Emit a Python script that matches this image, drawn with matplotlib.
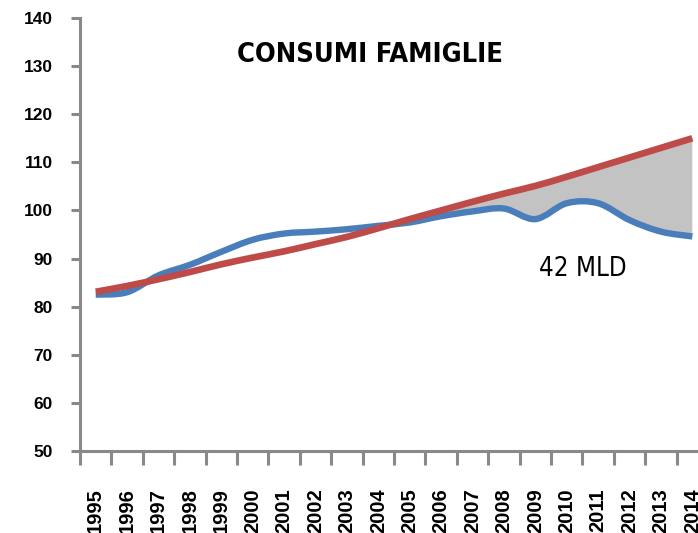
import numpy as np
import matplotlib
matplotlib.use("Agg")
import matplotlib.pyplot as plt
from matplotlib import font_manager
from matplotlib.path import Path
from matplotlib.patches import PathPatch

# data
years = [str(y) for y in range(1995, 2015)]
trend = [83.1, 84.3, 85.7, 87.2, 88.8, 90.2, 91.5, 93.0, 94.5, 96.3,
         98.2, 100.0, 101.8, 103.5, 105.1, 107.0, 109.0, 111.0, 113.0, 115.0]
consumi = [82.5, 83.0, 86.5, 88.7, 91.4, 93.9, 95.2, 95.6, 96.1, 96.8,
           97.5, 98.8, 99.8, 100.4, 98.2, 101.5, 101.5, 98.0, 95.6, 94.6]
gap_start = 2006
title = "CONSUMI FAMIGLIE"
gap_label = "42 MLD"

grey = "#898989"


def narrow_font(bold):
    # look for a condensed face, else fall back to plain Liberation Sans
    want = "bold" if bold else "normal"
    for f in font_manager.fontManager.ttflist:
        narrow = ("Narrow" in f.name or "Condensed" in f.name
                  or f.stretch in ("condensed", "semi-condensed"))
        is_bold = f.weight in (700, "bold")
        if narrow and is_bold == bold and f.style == "normal":
            return font_manager.FontProperties(fname=f.fname), True
    return font_manager.FontProperties(family="Liberation Sans", weight=want), False


def smooth_verts(x, y):
    # excel-like smoothed line: catmull-rom turned into cubic bezier segments
    pts = np.column_stack([x, y]).astype(float)
    n = len(pts)
    verts = [pts[0]]
    for i in range(n - 1):
        p0 = pts[max(i - 1, 0)]
        p1 = pts[i]
        p2 = pts[i + 1]
        p3 = pts[min(i + 2, n - 1)]
        verts.append(p1 + (p2 - p0) / 6.0)
        verts.append(p2 - (p3 - p1) / 6.0)
        verts.append(p2)
    return np.array(verts)


def bezier_codes(nverts):
    return [Path.MOVETO] + [Path.CURVE4] * (nverts - 1)


fig = plt.figure(figsize=(6.98, 5.33), dpi=100)
ax = fig.add_axes([80 / 698, 82 / 533, 628 / 698, 433 / 533])

x = np.arange(len(years))
red_v = smooth_verts(x, trend)
blue_v = smooth_verts(x, consumi)

# grey gap area between the trend and the real curve
i0 = years.index(str(gap_start))
red_part = red_v[3 * i0:]
blue_part = blue_v[3 * i0:][::-1]
fill_verts = np.concatenate([red_part, blue_part, red_part[:1]])
fill_codes = (bezier_codes(len(red_part)) + [Path.LINETO]
              + [Path.CURVE4] * (len(blue_part) - 1) + [Path.CLOSEPOLY])
ax.add_patch(PathPatch(Path(fill_verts, fill_codes), facecolor="#c3c3c3",
                       edgecolor="none", zorder=1))

ax.add_patch(PathPatch(Path(blue_v, bezier_codes(len(blue_v))), facecolor="none",
                       edgecolor="#4a7ebb", linewidth=4.6, capstyle="butt", zorder=2))
ax.add_patch(PathPatch(Path(red_v, bezier_codes(len(red_v))), facecolor="none",
                       edgecolor="#be4b48", linewidth=4.8, capstyle="butt", zorder=3))

ax.set_xlim(-0.5, len(years) - 0.5)
ax.set_ylim(50, 140)

# axes styling
for s in ["top", "right"]:
    ax.spines[s].set_visible(False)
for s in ["left", "bottom"]:
    ax.spines[s].set_color(grey)
    ax.spines[s].set_linewidth(2.2)

ax.set_yticks(np.arange(50, 141, 10))
ax.tick_params(axis="y", length=6.5, width=2.2, color=grey, pad=13)
for lab in ax.get_yticklabels():
    lab.set_fontfamily("Liberation Sans")
    lab.set_fontweight("bold")
    lab.set_fontsize(12.5)

ax.set_xticks(np.arange(-0.5, len(years), 1.0))
ax.set_xticklabels([])
ax.tick_params(axis="x", which="major", length=10, width=2.2, color=grey)
ax.set_xticks(x, minor=True)
ax.set_xticklabels(years, minor=True, rotation=90, fontsize=14.5,
                   fontweight="bold", va="top", family="Liberation Sans")
ax.tick_params(axis="x", which="minor", length=0, pad=27)

title_fp, is_narrow = narrow_font(True)
label_fp, _ = narrow_font(False)
title_fp.set_size(19.5 if is_narrow else 18)
label_fp.set_size(18.5 if is_narrow else 17)

ax.text(8.74, 132.4, title, fontproperties=title_fp, ha="center", va="center")
ax.text(15.52, 87.8, gap_label, fontproperties=label_fp, ha="center", va="center")

plt.savefig("out.png", dpi=100)
